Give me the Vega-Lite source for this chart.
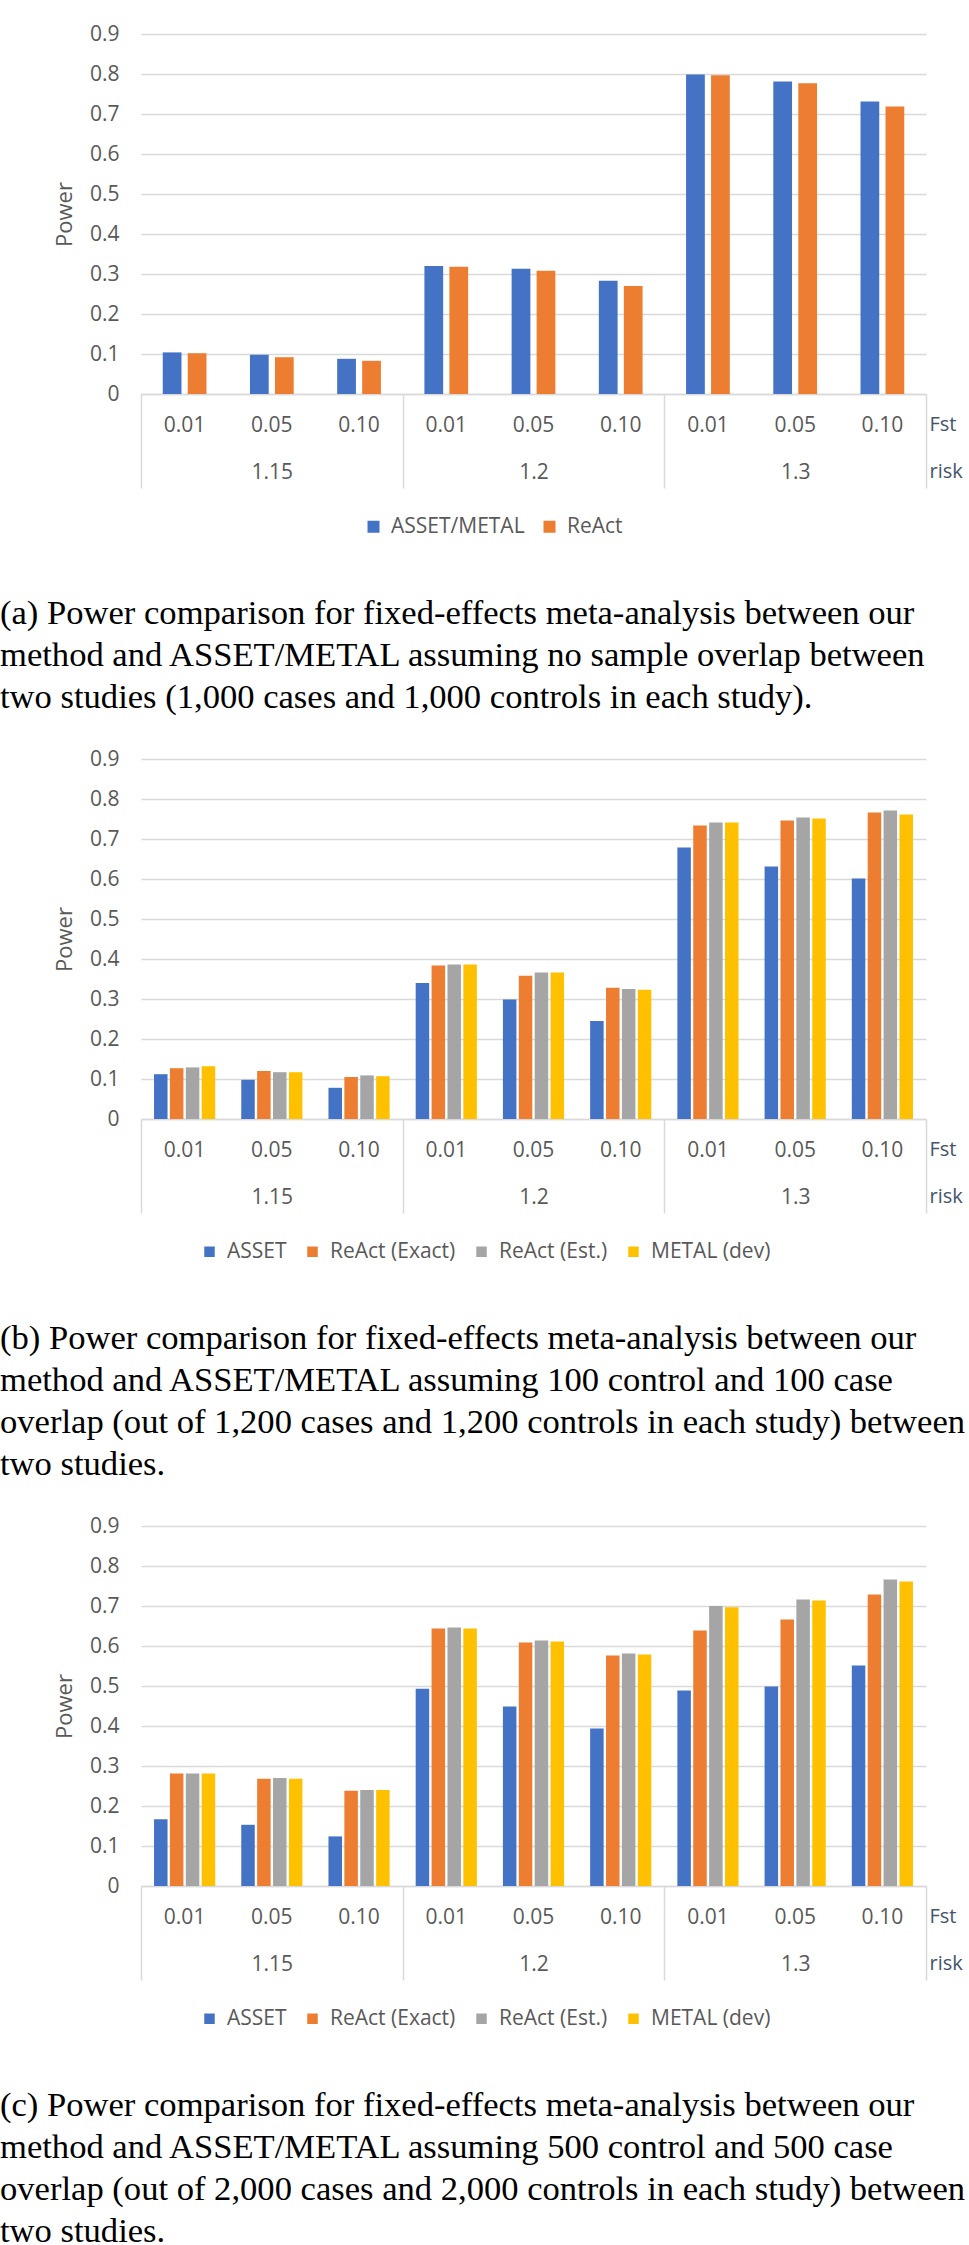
{
  "$schema": "https://vega.github.io/schema/vega-lite/v6.json",
  "background": "white",
  "padding": {"left": 0, "top": 23, "right": 0, "bottom": 0},
  "spacing": 33,
  "resolve": {"scale": {"color": "independent", "xOffset": "independent", "x": "independent"}, "legend": {"color": "independent"}},
  "config": {
    "view": {"stroke": null},
    "font": "Open Sans",
    "axis": {"labelFont": "Open Sans", "titleFont": "Open Sans", "labelColor": "#595959", "titleColor": "#595959", "titleFontWeight": "normal"},
    "legend": {"labelFont": "Open Sans"}
  },
  "datasets": {
    "a": [
      {"risk": "1.15", "fst": "0.01", "key": "1.15|0.01", "series": "ASSET/METAL", "power": 0.104},
      {"risk": "1.15", "fst": "0.01", "key": "1.15|0.01", "series": "ReAct", "power": 0.102},
      {"risk": "1.15", "fst": "0.05", "key": "1.15|0.05", "series": "ASSET/METAL", "power": 0.098},
      {"risk": "1.15", "fst": "0.05", "key": "1.15|0.05", "series": "ReAct", "power": 0.092},
      {"risk": "1.15", "fst": "0.10", "key": "1.15|0.10", "series": "ASSET/METAL", "power": 0.088},
      {"risk": "1.15", "fst": "0.10", "key": "1.15|0.10", "series": "ReAct", "power": 0.083},
      {"risk": "1.2", "fst": "0.01", "key": "1.2|0.01", "series": "ASSET/METAL", "power": 0.320},
      {"risk": "1.2", "fst": "0.01", "key": "1.2|0.01", "series": "ReAct", "power": 0.318},
      {"risk": "1.2", "fst": "0.05", "key": "1.2|0.05", "series": "ASSET/METAL", "power": 0.313},
      {"risk": "1.2", "fst": "0.05", "key": "1.2|0.05", "series": "ReAct", "power": 0.308},
      {"risk": "1.2", "fst": "0.10", "key": "1.2|0.10", "series": "ASSET/METAL", "power": 0.283},
      {"risk": "1.2", "fst": "0.10", "key": "1.2|0.10", "series": "ReAct", "power": 0.270},
      {"risk": "1.3", "fst": "0.01", "key": "1.3|0.01", "series": "ASSET/METAL", "power": 0.799},
      {"risk": "1.3", "fst": "0.01", "key": "1.3|0.01", "series": "ReAct", "power": 0.797},
      {"risk": "1.3", "fst": "0.05", "key": "1.3|0.05", "series": "ASSET/METAL", "power": 0.781},
      {"risk": "1.3", "fst": "0.05", "key": "1.3|0.05", "series": "ReAct", "power": 0.777},
      {"risk": "1.3", "fst": "0.10", "key": "1.3|0.10", "series": "ASSET/METAL", "power": 0.731},
      {"risk": "1.3", "fst": "0.10", "key": "1.3|0.10", "series": "ReAct", "power": 0.719}
    ],
    "b": [
      {"risk": "1.15", "fst": "0.01", "key": "1.15|0.01", "series": "ASSET", "power": 0.112},
      {"risk": "1.15", "fst": "0.01", "key": "1.15|0.01", "series": "ReAct (Exact)", "power": 0.127},
      {"risk": "1.15", "fst": "0.01", "key": "1.15|0.01", "series": "ReAct (Est.)", "power": 0.129},
      {"risk": "1.15", "fst": "0.01", "key": "1.15|0.01", "series": "METAL (dev)", "power": 0.132},
      {"risk": "1.15", "fst": "0.05", "key": "1.15|0.05", "series": "ASSET", "power": 0.098},
      {"risk": "1.15", "fst": "0.05", "key": "1.15|0.05", "series": "ReAct (Exact)", "power": 0.120},
      {"risk": "1.15", "fst": "0.05", "key": "1.15|0.05", "series": "ReAct (Est.)", "power": 0.117},
      {"risk": "1.15", "fst": "0.05", "key": "1.15|0.05", "series": "METAL (dev)", "power": 0.117},
      {"risk": "1.15", "fst": "0.10", "key": "1.15|0.10", "series": "ASSET", "power": 0.078},
      {"risk": "1.15", "fst": "0.10", "key": "1.15|0.10", "series": "ReAct (Exact)", "power": 0.105},
      {"risk": "1.15", "fst": "0.10", "key": "1.15|0.10", "series": "ReAct (Est.)", "power": 0.109},
      {"risk": "1.15", "fst": "0.10", "key": "1.15|0.10", "series": "METAL (dev)", "power": 0.107},
      {"risk": "1.2", "fst": "0.01", "key": "1.2|0.01", "series": "ASSET", "power": 0.340},
      {"risk": "1.2", "fst": "0.01", "key": "1.2|0.01", "series": "ReAct (Exact)", "power": 0.384},
      {"risk": "1.2", "fst": "0.01", "key": "1.2|0.01", "series": "ReAct (Est.)", "power": 0.386},
      {"risk": "1.2", "fst": "0.01", "key": "1.2|0.01", "series": "METAL (dev)", "power": 0.386},
      {"risk": "1.2", "fst": "0.05", "key": "1.2|0.05", "series": "ASSET", "power": 0.299},
      {"risk": "1.2", "fst": "0.05", "key": "1.2|0.05", "series": "ReAct (Exact)", "power": 0.358},
      {"risk": "1.2", "fst": "0.05", "key": "1.2|0.05", "series": "ReAct (Est.)", "power": 0.366},
      {"risk": "1.2", "fst": "0.05", "key": "1.2|0.05", "series": "METAL (dev)", "power": 0.366},
      {"risk": "1.2", "fst": "0.10", "key": "1.2|0.10", "series": "ASSET", "power": 0.245},
      {"risk": "1.2", "fst": "0.10", "key": "1.2|0.10", "series": "ReAct (Exact)", "power": 0.328},
      {"risk": "1.2", "fst": "0.10", "key": "1.2|0.10", "series": "ReAct (Est.)", "power": 0.325},
      {"risk": "1.2", "fst": "0.10", "key": "1.2|0.10", "series": "METAL (dev)", "power": 0.323},
      {"risk": "1.3", "fst": "0.01", "key": "1.3|0.01", "series": "ASSET", "power": 0.679},
      {"risk": "1.3", "fst": "0.01", "key": "1.3|0.01", "series": "ReAct (Exact)", "power": 0.734},
      {"risk": "1.3", "fst": "0.01", "key": "1.3|0.01", "series": "ReAct (Est.)", "power": 0.741},
      {"risk": "1.3", "fst": "0.01", "key": "1.3|0.01", "series": "METAL (dev)", "power": 0.741},
      {"risk": "1.3", "fst": "0.05", "key": "1.3|0.05", "series": "ASSET", "power": 0.631},
      {"risk": "1.3", "fst": "0.05", "key": "1.3|0.05", "series": "ReAct (Exact)", "power": 0.746},
      {"risk": "1.3", "fst": "0.05", "key": "1.3|0.05", "series": "ReAct (Est.)", "power": 0.754},
      {"risk": "1.3", "fst": "0.05", "key": "1.3|0.05", "series": "METAL (dev)", "power": 0.751},
      {"risk": "1.3", "fst": "0.10", "key": "1.3|0.10", "series": "ASSET", "power": 0.601},
      {"risk": "1.3", "fst": "0.10", "key": "1.3|0.10", "series": "ReAct (Exact)", "power": 0.766},
      {"risk": "1.3", "fst": "0.10", "key": "1.3|0.10", "series": "ReAct (Est.)", "power": 0.771},
      {"risk": "1.3", "fst": "0.10", "key": "1.3|0.10", "series": "METAL (dev)", "power": 0.761}
    ],
    "c": [
      {"risk": "1.15", "fst": "0.01", "key": "1.15|0.01", "series": "ASSET", "power": 0.167},
      {"risk": "1.15", "fst": "0.01", "key": "1.15|0.01", "series": "ReAct (Exact)", "power": 0.281},
      {"risk": "1.15", "fst": "0.01", "key": "1.15|0.01", "series": "ReAct (Est.)", "power": 0.281},
      {"risk": "1.15", "fst": "0.01", "key": "1.15|0.01", "series": "METAL (dev)", "power": 0.281},
      {"risk": "1.15", "fst": "0.05", "key": "1.15|0.05", "series": "ASSET", "power": 0.153},
      {"risk": "1.15", "fst": "0.05", "key": "1.15|0.05", "series": "ReAct (Exact)", "power": 0.268},
      {"risk": "1.15", "fst": "0.05", "key": "1.15|0.05", "series": "ReAct (Est.)", "power": 0.270},
      {"risk": "1.15", "fst": "0.05", "key": "1.15|0.05", "series": "METAL (dev)", "power": 0.268},
      {"risk": "1.15", "fst": "0.10", "key": "1.15|0.10", "series": "ASSET", "power": 0.124},
      {"risk": "1.15", "fst": "0.10", "key": "1.15|0.10", "series": "ReAct (Exact)", "power": 0.238},
      {"risk": "1.15", "fst": "0.10", "key": "1.15|0.10", "series": "ReAct (Est.)", "power": 0.240},
      {"risk": "1.15", "fst": "0.10", "key": "1.15|0.10", "series": "METAL (dev)", "power": 0.240},
      {"risk": "1.2", "fst": "0.01", "key": "1.2|0.01", "series": "ASSET", "power": 0.493},
      {"risk": "1.2", "fst": "0.01", "key": "1.2|0.01", "series": "ReAct (Exact)", "power": 0.644},
      {"risk": "1.2", "fst": "0.01", "key": "1.2|0.01", "series": "ReAct (Est.)", "power": 0.646},
      {"risk": "1.2", "fst": "0.01", "key": "1.2|0.01", "series": "METAL (dev)", "power": 0.644},
      {"risk": "1.2", "fst": "0.05", "key": "1.2|0.05", "series": "ASSET", "power": 0.449},
      {"risk": "1.2", "fst": "0.05", "key": "1.2|0.05", "series": "ReAct (Exact)", "power": 0.609},
      {"risk": "1.2", "fst": "0.05", "key": "1.2|0.05", "series": "ReAct (Est.)", "power": 0.614},
      {"risk": "1.2", "fst": "0.05", "key": "1.2|0.05", "series": "METAL (dev)", "power": 0.611},
      {"risk": "1.2", "fst": "0.10", "key": "1.2|0.10", "series": "ASSET", "power": 0.394},
      {"risk": "1.2", "fst": "0.10", "key": "1.2|0.10", "series": "ReAct (Exact)", "power": 0.576},
      {"risk": "1.2", "fst": "0.10", "key": "1.2|0.10", "series": "ReAct (Est.)", "power": 0.581},
      {"risk": "1.2", "fst": "0.10", "key": "1.2|0.10", "series": "METAL (dev)", "power": 0.579},
      {"risk": "1.3", "fst": "0.01", "key": "1.3|0.01", "series": "ASSET", "power": 0.489},
      {"risk": "1.3", "fst": "0.01", "key": "1.3|0.01", "series": "ReAct (Exact)", "power": 0.639},
      {"risk": "1.3", "fst": "0.01", "key": "1.3|0.01", "series": "ReAct (Est.)", "power": 0.700},
      {"risk": "1.3", "fst": "0.01", "key": "1.3|0.01", "series": "METAL (dev)", "power": 0.697},
      {"risk": "1.3", "fst": "0.05", "key": "1.3|0.05", "series": "ASSET", "power": 0.499},
      {"risk": "1.3", "fst": "0.05", "key": "1.3|0.05", "series": "ReAct (Exact)", "power": 0.666},
      {"risk": "1.3", "fst": "0.05", "key": "1.3|0.05", "series": "ReAct (Est.)", "power": 0.716},
      {"risk": "1.3", "fst": "0.05", "key": "1.3|0.05", "series": "METAL (dev)", "power": 0.714},
      {"risk": "1.3", "fst": "0.10", "key": "1.3|0.10", "series": "ASSET", "power": 0.551},
      {"risk": "1.3", "fst": "0.10", "key": "1.3|0.10", "series": "ReAct (Exact)", "power": 0.729},
      {"risk": "1.3", "fst": "0.10", "key": "1.3|0.10", "series": "ReAct (Est.)", "power": 0.766},
      {"risk": "1.3", "fst": "0.10", "key": "1.3|0.10", "series": "METAL (dev)", "power": 0.761}
    ]
  },
  "vconcat": [
    {
      "width": 785, "height": 360,
      "data": {"name": "a"},
      "title": {
        "text": ["(a) Power comparison for fixed-effects meta-analysis between our", "method and ASSET/METAL assuming no sample overlap between", "two studies (1,000 cases and 1,000 controls in each study)."],
        "orient": "bottom", "anchor": "start", "frame": "group", "dx": -141, "offset": 60,
        "font": "Liberation Serif", "fontSize": 34.6, "fontWeight": "normal", "color": "#000000", "lineHeight": 42, "baseline": "top"
      },
      "layer": [
        {
          "mark": {"type": "bar"},
          "encoding": {
            "x": {"field": "key", "type": "nominal", "sort": ["1.15|0.01","1.15|0.05","1.15|0.10","1.2|0.01","1.2|0.05","1.2|0.10","1.3|0.01","1.3|0.05","1.3|0.10"],
              "scale": {"paddingInner": 0, "paddingOuter": 0},
              "axis": {"title": "Fst", "titleX": 788, "titleY": 30, "titleAlign": "left", "titleBaseline": "middle", "titleAngle": 0, "titleColor": "#44546A", "titleFontSize": 20,
                "labelExpr": "split(datum.value, '|')[1]", "labelAngle": 0, "labelPadding": 20, "labelBaseline": "top", "labelFontSize": 21,
                "ticks": false, "domain": true, "domainColor": "#D9D9D9", "domainWidth": 1.5, "grid": false}},
            "xOffset": {"field": "series", "type": "nominal", "sort": ["ASSET/METAL", "ReAct"], "scale": {"paddingInner": 0.25, "paddingOuter": 0.87}},
            "y": {"field": "power", "type": "quantitative", "scale": {"domain": [0, 0.9], "nice": false},
              "axis": {"title": "Power", "values": [0, 0.1, 0.2, 0.3, 0.4, 0.5, 0.6, 0.7, 0.8, 0.9], "format": ".1~f", "grid": true, "gridColor": "#D9D9D9", "gridWidth": 1.5, "domain": false, "ticks": false, "labelPadding": 22, "labelFontSize": 21, "titleFontSize": 22, "titlePadding": 13}},
            "color": {"field": "series", "type": "nominal", "scale": {"domain": ["ASSET/METAL", "ReAct"], "range": ["#4472C4", "#ED7D31"]},
              "legend": {"title": null, "orient": "none", "legendX": 222, "legendY": 482, "direction": "horizontal", "symbolType": "square", "symbolSize": 144, "symbolStrokeWidth": 0, "labelFontSize": 21, "labelColor": "#595959", "labelOffset": 7, "columnPadding": 14, "padding": 0}}
          }
        },
        {
          "mark": {"type": "point", "opacity": 0},
          "encoding": {
            "x": {"field": "risk", "type": "nominal", "sort": ["1.15", "1.2", "1.3"], "scale": {"type": "band", "paddingInner": 0, "paddingOuter": 0},
              "axis": {"orient": "bottom", "title": "risk", "titleX": 788, "titleY": 77, "titleAlign": "left", "titleBaseline": "middle", "titleAngle": 0, "titleColor": "#44546A", "titleFontSize": 20,
                "tickBand": "extent", "ticks": true, "tickSize": 94, "tickColor": "#D9D9D9", "tickWidth": 1.5, "labelPadding": -27, "labelBaseline": "top", "labelAngle": 0, "labelFontSize": 21, "domain": false, "grid": false}}
          }
        }
      ],
      "resolve": {"scale": {"x": "independent"}}
    },
    {
      "width": 785, "height": 360,
      "data": {"name": "b"},
      "title": {
        "text": ["(b) Power comparison for fixed-effects meta-analysis between our", "method and ASSET/METAL assuming 100 control and 100 case", "overlap (out of 1,200 cases and 1,200 controls in each study) between", "two studies."],
        "orient": "bottom", "anchor": "start", "frame": "group", "dx": -141, "offset": 60,
        "font": "Liberation Serif", "fontSize": 34.6, "fontWeight": "normal", "color": "#000000", "lineHeight": 42, "baseline": "top"
      },
      "layer": [
        {
          "mark": {"type": "bar"},
          "encoding": {
            "x": {"field": "key", "type": "nominal", "sort": ["1.15|0.01","1.15|0.05","1.15|0.10","1.2|0.01","1.2|0.05","1.2|0.10","1.3|0.01","1.3|0.05","1.3|0.10"],
              "scale": {"paddingInner": 0, "paddingOuter": 0},
              "axis": {"title": "Fst", "titleX": 788, "titleY": 30, "titleAlign": "left", "titleBaseline": "middle", "titleAngle": 0, "titleColor": "#44546A", "titleFontSize": 20,
                "labelExpr": "split(datum.value, '|')[1]", "labelAngle": 0, "labelPadding": 20, "labelBaseline": "top", "labelFontSize": 21,
                "ticks": false, "domain": true, "domainColor": "#D9D9D9", "domainWidth": 1.5, "grid": false}},
            "xOffset": {"field": "series", "type": "nominal", "sort": ["ASSET", "ReAct (Exact)", "ReAct (Est.)", "METAL (dev)"], "scale": {"paddingInner": 0.15, "paddingOuter": 0.82}},
            "y": {"field": "power", "type": "quantitative", "scale": {"domain": [0, 0.9], "nice": false},
              "axis": {"title": "Power", "values": [0, 0.1, 0.2, 0.3, 0.4, 0.5, 0.6, 0.7, 0.8, 0.9], "format": ".1~f", "grid": true, "gridColor": "#D9D9D9", "gridWidth": 1.5, "domain": false, "ticks": false, "labelPadding": 22, "labelFontSize": 21, "titleFontSize": 22, "titlePadding": 13}},
            "color": {"field": "series", "type": "nominal", "scale": {"domain": ["ASSET", "ReAct (Exact)", "ReAct (Est.)", "METAL (dev)"], "range": ["#4472C4", "#ED7D31", "#A5A5A5", "#FFC000"]},
              "legend": {"title": null, "orient": "none", "legendX": 58, "legendY": 482, "direction": "horizontal", "symbolType": "square", "symbolSize": 110, "symbolStrokeWidth": 0, "labelFontSize": 21, "labelColor": "#595959", "labelOffset": 7, "columnPadding": 15, "padding": 0}}
          }
        },
        {
          "mark": {"type": "point", "opacity": 0},
          "encoding": {
            "x": {"field": "risk", "type": "nominal", "sort": ["1.15", "1.2", "1.3"], "scale": {"type": "band", "paddingInner": 0, "paddingOuter": 0},
              "axis": {"orient": "bottom", "title": "risk", "titleX": 788, "titleY": 77, "titleAlign": "left", "titleBaseline": "middle", "titleAngle": 0, "titleColor": "#44546A", "titleFontSize": 20,
                "tickBand": "extent", "ticks": true, "tickSize": 94, "tickColor": "#D9D9D9", "tickWidth": 1.5, "labelPadding": -27, "labelBaseline": "top", "labelAngle": 0, "labelFontSize": 21, "domain": false, "grid": false}}
          }
        }
      ],
      "resolve": {"scale": {"x": "independent"}}
    },
    {
      "width": 785, "height": 360,
      "data": {"name": "c"},
      "title": {
        "text": ["(c) Power comparison for fixed-effects meta-analysis between our", "method and ASSET/METAL assuming 500 control and 500 case", "overlap (out of 2,000 cases and 2,000 controls in each study) between", "two studies."],
        "orient": "bottom", "anchor": "start", "frame": "group", "dx": -141, "offset": 60,
        "font": "Liberation Serif", "fontSize": 34.6, "fontWeight": "normal", "color": "#000000", "lineHeight": 42, "baseline": "top"
      },
      "layer": [
        {
          "mark": {"type": "bar"},
          "encoding": {
            "x": {"field": "key", "type": "nominal", "sort": ["1.15|0.01","1.15|0.05","1.15|0.10","1.2|0.01","1.2|0.05","1.2|0.10","1.3|0.01","1.3|0.05","1.3|0.10"],
              "scale": {"paddingInner": 0, "paddingOuter": 0},
              "axis": {"title": "Fst", "titleX": 788, "titleY": 30, "titleAlign": "left", "titleBaseline": "middle", "titleAngle": 0, "titleColor": "#44546A", "titleFontSize": 20,
                "labelExpr": "split(datum.value, '|')[1]", "labelAngle": 0, "labelPadding": 20, "labelBaseline": "top", "labelFontSize": 21,
                "ticks": false, "domain": true, "domainColor": "#D9D9D9", "domainWidth": 1.5, "grid": false}},
            "xOffset": {"field": "series", "type": "nominal", "sort": ["ASSET", "ReAct (Exact)", "ReAct (Est.)", "METAL (dev)"], "scale": {"paddingInner": 0.15, "paddingOuter": 0.82}},
            "y": {"field": "power", "type": "quantitative", "scale": {"domain": [0, 0.9], "nice": false},
              "axis": {"title": "Power", "values": [0, 0.1, 0.2, 0.3, 0.4, 0.5, 0.6, 0.7, 0.8, 0.9], "format": ".1~f", "grid": true, "gridColor": "#D9D9D9", "gridWidth": 1.5, "domain": false, "ticks": false, "labelPadding": 22, "labelFontSize": 21, "titleFontSize": 22, "titlePadding": 13}},
            "color": {"field": "series", "type": "nominal", "scale": {"domain": ["ASSET", "ReAct (Exact)", "ReAct (Est.)", "METAL (dev)"], "range": ["#4472C4", "#ED7D31", "#A5A5A5", "#FFC000"]},
              "legend": {"title": null, "orient": "none", "legendX": 58, "legendY": 482, "direction": "horizontal", "symbolType": "square", "symbolSize": 110, "symbolStrokeWidth": 0, "labelFontSize": 21, "labelColor": "#595959", "labelOffset": 7, "columnPadding": 15, "padding": 0}}
          }
        },
        {
          "mark": {"type": "point", "opacity": 0},
          "encoding": {
            "x": {"field": "risk", "type": "nominal", "sort": ["1.15", "1.2", "1.3"], "scale": {"type": "band", "paddingInner": 0, "paddingOuter": 0},
              "axis": {"orient": "bottom", "title": "risk", "titleX": 788, "titleY": 77, "titleAlign": "left", "titleBaseline": "middle", "titleAngle": 0, "titleColor": "#44546A", "titleFontSize": 20,
                "tickBand": "extent", "ticks": true, "tickSize": 94, "tickColor": "#D9D9D9", "tickWidth": 1.5, "labelPadding": -27, "labelBaseline": "top", "labelAngle": 0, "labelFontSize": 21, "domain": false, "grid": false}}
          }
        }
      ],
      "resolve": {"scale": {"x": "independent"}}
    }
  ]
}
